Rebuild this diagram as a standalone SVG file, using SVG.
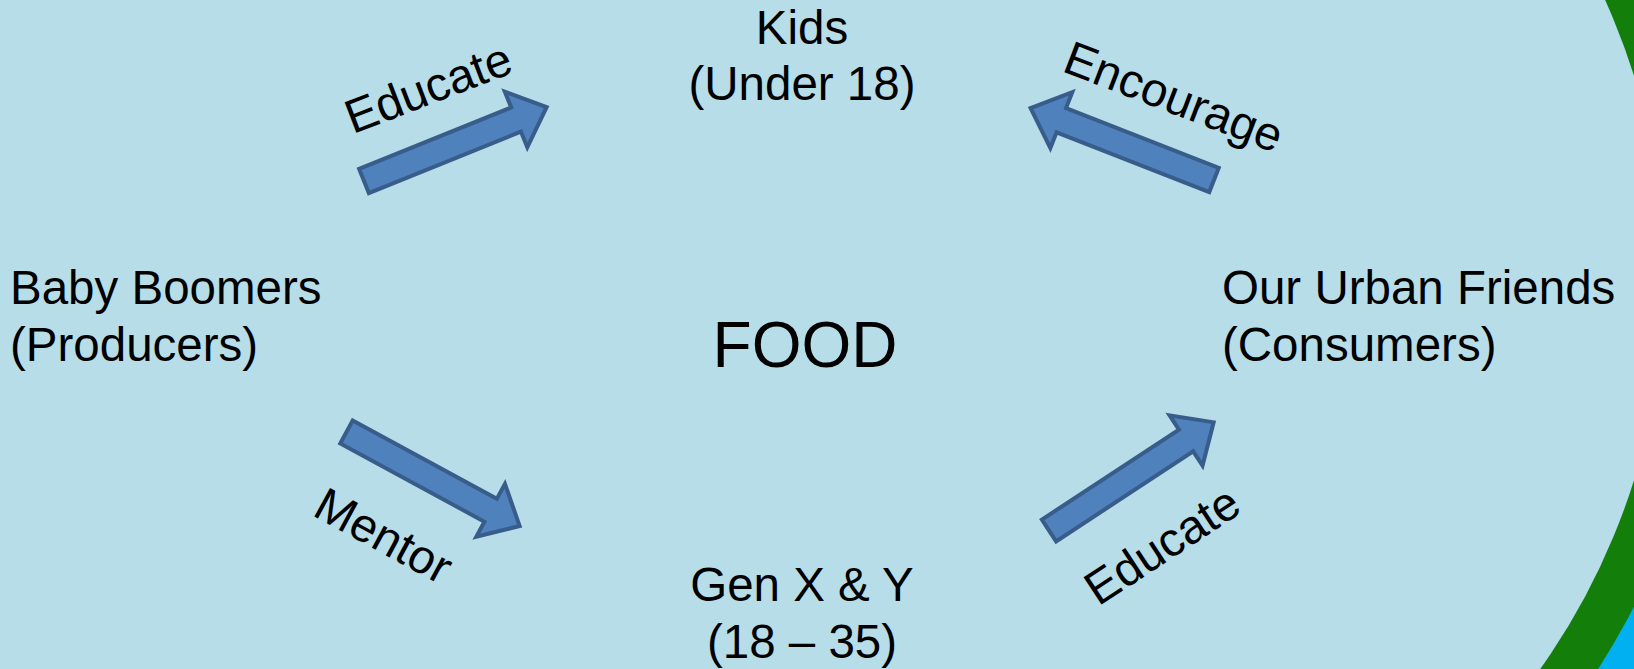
<svg xmlns="http://www.w3.org/2000/svg" width="1634" height="669" viewBox="0 0 1634 669">
  <defs>
    <style>
      .t { font-family: "Liberation Sans", Arial, sans-serif; font-size: 47.5px; fill: #000000; }
      .c { text-anchor: middle; }
      .big { font-size: 64px; }
      .arr { fill: #4f81bd; stroke: #385d8a; stroke-width: 4; stroke-linejoin: miter; }
    </style>
    <path id="arrowShape" d="M0,-13 L164,-13 L164,-30 L197,0 L164,30 L164,13 L0,13 Z"/>
  </defs>

  <g id="background">
    <rect x="990" y="0" width="644" height="669" fill="#00b0f0"/>
    <circle cx="990" cy="278" r="723" fill="#147e0b"/>
    <circle cx="990" cy="278" r="675" fill="#b7dde8"/>
    <rect x="0" y="0" width="990" height="669" fill="#b7dde8"/>
  </g>

  <g id="connectors">
    <g id="arrow-educate-top">
      <use href="#arrowShape" class="arr" transform="translate(364,181) rotate(-22)"/>
      <text class="t c" transform="translate(434,103) rotate(-21)">Educate</text>
    </g>
    <g id="arrow-encourage">
      <use href="#arrowShape" class="arr" transform="translate(1214,180) rotate(201.4)"/>
      <text class="t c" transform="translate(1168,112) rotate(21)">Encourage</text>
    </g>
    <g id="arrow-mentor">
      <use href="#arrowShape" class="arr" transform="translate(346.5,432) rotate(28.5)"/>
      <text class="t c" transform="translate(376,550) rotate(28.5)">Mentor</text>
    </g>
    <g id="arrow-educate-bottom">
      <use href="#arrowShape" class="arr" transform="translate(1049,530.5) rotate(-33.3)"/>
      <text class="t c" transform="translate(1171,559) rotate(-33.3)">Educate</text>
    </g>
  </g>

  <g id="node-kids">
    <text class="t c" x="802" y="44">Kids</text>
    <text class="t c" x="802" y="100">(Under 18)</text>
  </g>
  <g id="node-baby-boomers">
    <text class="t" x="10" y="304">Baby Boomers</text>
    <text class="t" x="10" y="361">(Producers)</text>
  </g>
  <g id="node-food">
    <text class="t c big" x="805" y="367">FOOD</text>
  </g>
  <g id="node-urban-friends">
    <text class="t" x="1222" y="304">Our Urban Friends</text>
    <text class="t" x="1222" y="361">(Consumers)</text>
  </g>
  <g id="node-genxy">
    <text class="t c" x="802" y="601">Gen X &amp; Y</text>
    <text class="t c" x="802" y="658">(18 – 35)</text>
  </g>
</svg>
